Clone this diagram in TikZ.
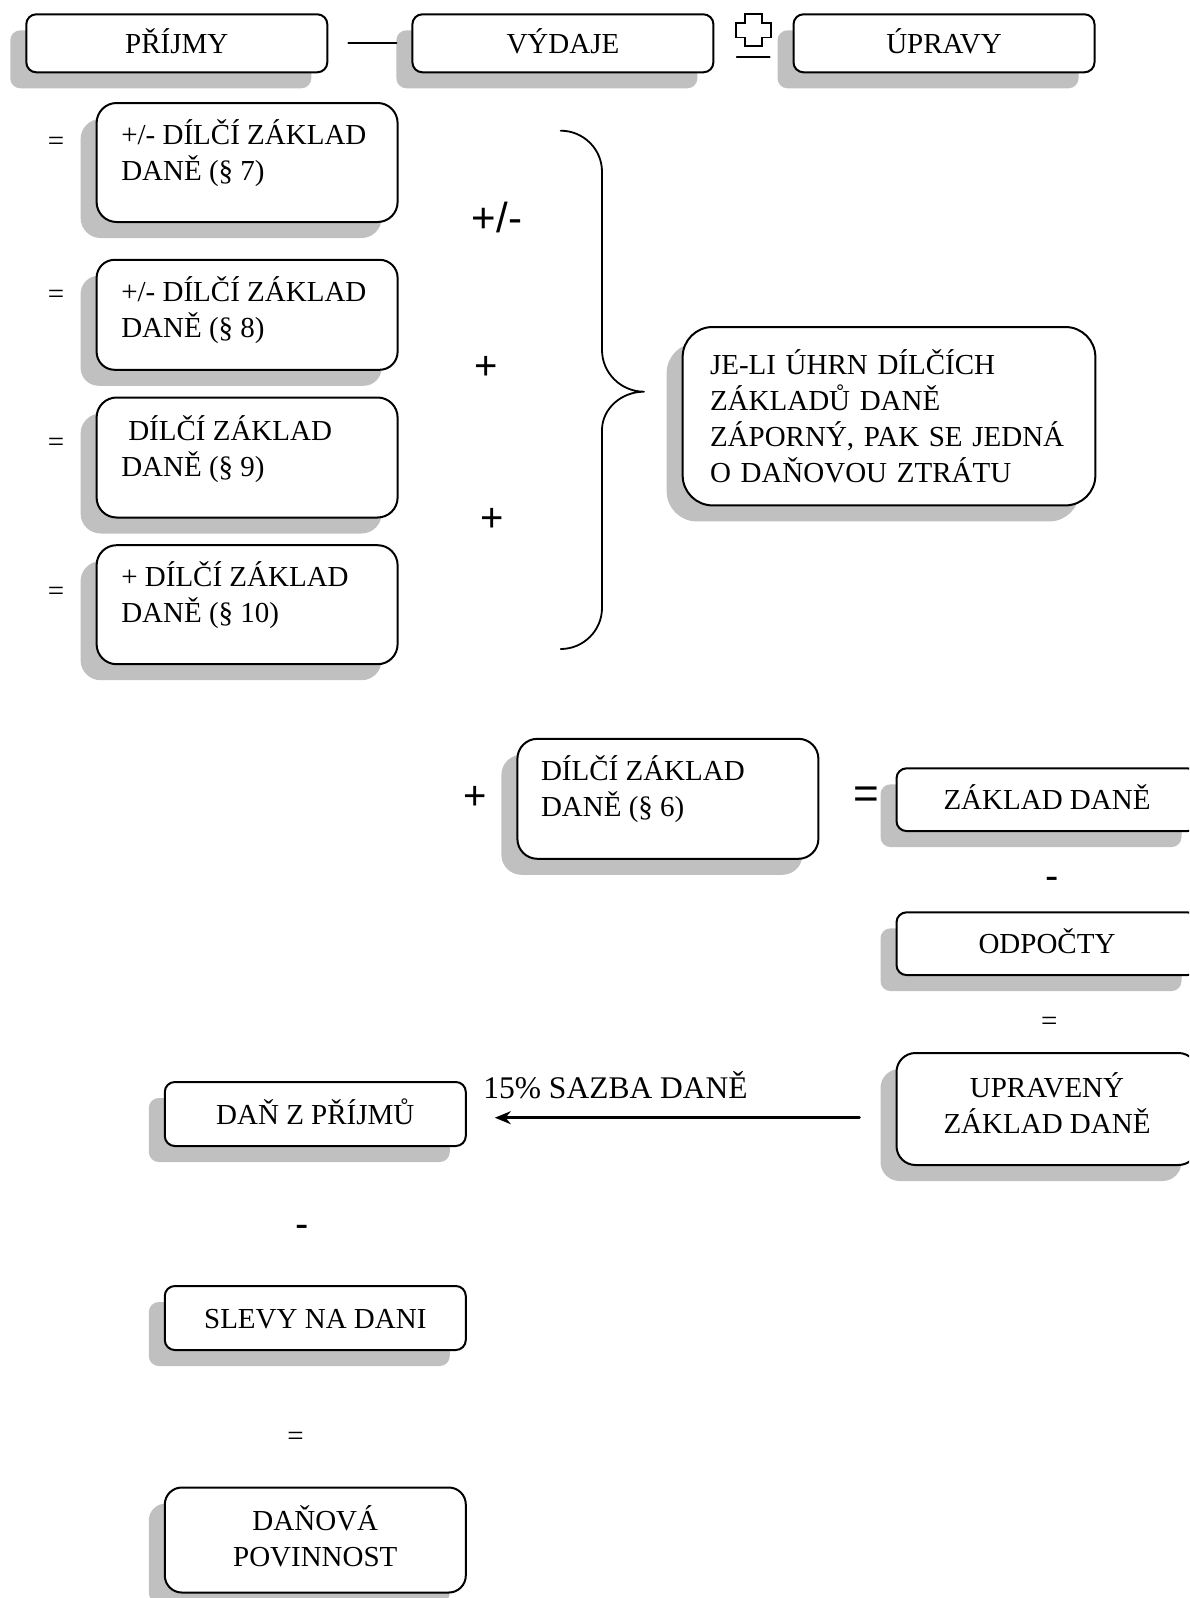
\documentclass[tikz,border=0pt]{standalone}
\usepackage{fontspec}
\setmainfont{Liberation Serif}
\newfontfamily\signfont{Liberation Sans}
\usetikzlibrary{shadows,arrows.meta}
\definecolor{shgray}{RGB}{192,192,192}

\begin{document}
\begin{tikzpicture}[x=1pt, y=-1pt, line join = round, line cap = round, font=\fontsize{29}{36}\selectfont]
			\tikzset{box/.style={draw, line width=2pt, fill=white, minimum width=301pt, inner sep=0pt,
					general shadow={fill=shgray, shadow xshift=-16pt, shadow yshift=-16pt}},
				oneline/.style={text height=22pt, text depth=2pt},
				txt/.style={inner sep=0pt, align=left},
				sign/.style={inner sep=0pt, font=\signfont\fontsize{40}{40}\selectfont},
				eqsign/.style={inner sep=0pt},
				taxarrow/.style={-{Stealth[length=16pt,width=13pt]}, line width=2.6pt}}
			\useasboundingbox (0,0) rectangle (1189,1598);
			\clip (0,0) rectangle (1189,1598);
			% top row
			\node[box, oneline, minimum height=58pt, rounded corners=10pt] (prijmy) at (176.8,43.3) {PŘÍJMY};
			\node[box, oneline, minimum height=58pt, rounded corners=10pt] (vydaje) at (562.9,43.3) {VÝDAJE};
			\node[box, oneline, minimum height=58pt, rounded corners=10pt] (upravy) at (944,43.3) {ÚPRAVY};
			\draw[line width=1.8pt] ([xshift=20pt]prijmy.east) -- ([xshift=-15pt]vydaje.west);
			\draw[line width=1.6pt, line join=miter] (745,14) -- (761.7,14) -- (761.7,22.7) -- (770.7,22.7) -- (770.7,37.3) -- (761.7,37.3)
			-- (761.7,46) -- (745,46) -- (745,37.3) -- (736,37.3) -- (736,22.7) -- (745,22.7) -- cycle;
			\draw[line width=1.8pt] (736.7,56.7) -- (769.7,56.7);
			% partial tax bases
			\foreach \y [count=\i] in {143.6,296.4,445.2,594}
			\node[eqsign] (eq\i) at (56,\y) {=};
			\node[box, minimum height=119pt, rounded corners=20pt] (dz7) at (247.1,162.5) {};
			\node[txt, anchor=west] (t7) at ([shift={(25.5pt,9.7pt)}]dz7.west) {+/- DÍLČÍ ZÁKLAD\\DANĚ (§ 7)};
			\node[box, minimum height=110pt, rounded corners=18pt] (dz8) at (247.1,314.8) {};
			\node[txt, anchor=west] (t8) at ([shift={(25.5pt,4.6pt)}]dz8.west) {+/- DÍLČÍ ZÁKLAD\\DANĚ (§ 8)};
			\node[box, minimum height=120pt, rounded corners=20pt] (dz9) at (247.1,457.5) {};
			\node[txt, anchor=west] (t9) at ([shift={(25.5pt,8.7pt)}]dz9.west) {\hspace*{7pt}DÍLČÍ ZÁKLAD\\DANĚ (§ 9)};
			\node[box, minimum height=119pt, rounded corners=20pt] (dz10) at (247.1,604.7) {};
			\node[txt, anchor=west] (t10) at ([shift={(25.5pt,9.2pt)}]dz10.west) {+ DÍLČÍ ZÁKLAD\\DANĚ (§ 10)};
			\node[sign, font=\signfont\fontsize{42}{42}\selectfont] (pm) at (497,217) {+/-};
			\node[sign] (p1) at (486,367.8) {+};
			\node[sign] (p2) at (492,519.6) {+};
			% brace
			\draw[line width=1.8pt] (560.7,130.7) .. controls (583.4,130.7) and (602,149.1) .. (602,171.7) -- (602,350)
			.. controls (602,373) and (621,391.7) .. (644,391.7) .. controls (621,391.7) and (602,409) .. (602,430) -- (602,608)
			.. controls (602,630.5) and (583.4,649) .. (560.7,649);
			\node[box, minimum width=412.7pt, minimum height=178.4pt, rounded corners=30pt, align=left,
			text width=358pt, inner xsep=27.35pt] (ztrata) at (889,416.2)
			{JE-LI ÚHRN DÍLČÍCH\\ZÁKLADŮ DANĚ\\ZÁPORNÝ, PAK SE JEDNÁ\\O DAŇOVOU ZTRÁTU};
			% tax base
			\node[sign] (p3) at (474.8,797.8) {+};
			\node[box, minimum height=120pt, rounded corners=20pt] (dz6) at (667.9,798.8) {};
			\node[txt, anchor=west] (t6) at ([shift={(24.4pt,9.8pt)}]dz6.west) {DÍLČÍ ZÁKLAD\\DANĚ (§ 6)};
			\node[sign, font=\signfont\fontsize{44}{44}\selectfont] (eqz) at (866,798) {=};
			\node[box, oneline, minimum height=62.7pt, rounded corners=10pt] (zaklad) at (1047,799.7) {ZÁKLAD DANĚ};
			\node[sign] (m1) at (1052.5,883.4) {-};
			\node[box, oneline, minimum height=62.7pt, rounded corners=10pt] (odpocty) at (1047,943.7) {ODPOČTY};
			\node[eqsign] (eq5) at (1049.4,1024) {=};
			\node[box, minimum height=112pt, rounded corners=19pt] (upraveny) at (1047,1109) {};
			\node[txt, align=center] (tupr) at ([yshift=6pt]upraveny.center) {UPRAVENÝ\\ZÁKLAD DANĚ};
			% tax
			\node[box, oneline, minimum height=64pt, rounded corners=10pt] (dan) at (315.3,1114) {DAŇ Z PŘÍJMŮ};
			\coordinate (arrS) at ([shift={(-36pt,-8.7pt)}]upraveny.west);
			\coordinate (arrE0) at ([xshift=28pt]dan.east);
			\draw[taxarrow] (arrS) -- (arrE0 |- arrS);
			\node[inner sep=0pt, font=\fontsize{31.5}{36}\selectfont] (sazba) at (615.5,1085) {15\% SAZBA DANĚ};
			\node[sign] (m2) at (302.6,1231) {-};
			\node[box, oneline, minimum height=64pt, rounded corners=10pt] (slevy) at (315.3,1318) {SLEVY NA DANI};
			\node[eqsign] (eq6) at (295.5,1438.6) {=};
			\node[box, minimum height=105pt, rounded corners=17pt] (povinnost) at (315.3,1540) {};
			\node[txt, align=center] (tpov) at ([yshift=3.5pt]povinnost.center) {DAŇOVÁ\\POVINNOST};
	\end{tikzpicture}
\end{document}
